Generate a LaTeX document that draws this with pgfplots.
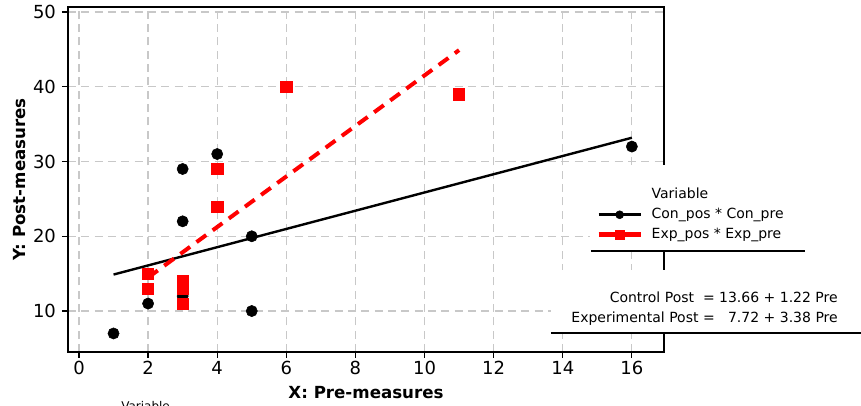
\documentclass[border=0pt]{standalone}
\usepackage{fontspec}
\setmainfont{DejaVu Sans}
\usepackage{pgfplots}
\pgfplotsset{compat=1.18}
\definecolor{gridgray}{RGB}{200,200,200}
\definecolor{expred}{RGB}{255,0,0}

\begin{document}
\begin{tikzpicture}
\begin{axis}[
    scale only axis,
    width=447pt, height=258.75pt,
    xmin=-0.318, xmax=16.93,
    ymin=4.52, ymax=50.67,
    xtick={0,2,...,16},
    ytick={10,20,...,50},
    xtick pos=left, ytick pos=left,
    tick align=outside,
    major tick length=4.5pt,
    tick style={black, line width=0.9pt},
    grid=major,
    major grid style={gridgray, line width=0.9pt, dash pattern=on 6pt off 4pt},
    axis line style={black, line width=1.2pt},
    /pgf/number format/assume math mode=true,
    ticklabel style={font=\fontsize{13.5}{16}\selectfont},
    xticklabel style={yshift=1pt},
    yticklabel style={xshift=-1pt},
    xlabel={X: Pre-measures},
    ylabel={Y: Post-measures},
    every axis x label/.style={at={(rel axis cs:0.5,-0.136)}, anchor=base,
        font=\bfseries\fontsize{12.5}{15}\selectfont},
    every axis y label/.style={at={(rel axis cs:-0.0713,0.5)}, anchor=base, rotate=90,
        font=\bfseries\fontsize{12.5}{15}\selectfont},
    clip=false,
    legend image code/.code={\draw[mark repeat=2,mark phase=2,#1]
        plot coordinates {(0pt,0pt) (15.75pt,0pt) (31.5pt,0pt)};},
    legend cell align=left,
    legend style={at={(rel axis cs:0.886,0.4797)}, anchor=north west,
        draw=none, fill=none, inner sep=0pt, row sep=3pt, column sep=6.5pt,
        font=\fontsize{10.5}{12}\selectfont,
        nodes={inner sep=0pt, text height=9pt, text depth=3pt}},
]
% control group
\addplot[only marks, mark=*, mark size=4.2pt, black, forget plot] coordinates {
    (1,7) (2,11) (3,29) (3,22) (3,12) (4,31) (5,20) (5,10) (16,32)};
\addplot[black, line width=1.8pt, forget plot] coordinates {(1,14.88) (16,33.18)};
% experimental group
\addplot[only marks, mark=square*, mark size=4.2pt, expred, forget plot] coordinates {
    (2,15) (2,13) (3,14) (3,13) (3,11) (4,29) (4,24) (6,40) (11,39)};
\addplot[expred, line width=3pt, dash pattern=on 9pt off 6pt, forget plot]
    coordinates {(2,14.48) (11,44.90)};

% white panels of the legend and the equations
\fill[white] (rel axis cs:0.876,0.542) rectangle (rel axis cs:1.35,0.2928);
\draw[black, line width=0.9pt] (rel axis cs:0.8775,0.2928) -- (rel axis cs:1.2366,0.2928);
\fill[white] (rel axis cs:0.8104,0.2377) rectangle (rel axis cs:1.35,0.0551);
\draw[black, line width=0.9pt] (rel axis cs:0.8104,0.0551) -- (rel axis cs:1.331,0.0551);
\node[anchor=east, inner sep=0pt, font=\fontsize{10.5}{15}\selectfont]
    at (rel axis cs:1.292,0.1275)
    {\begin{tabular}{@{}r@{}}Control Post\ \ = 13.66 + 1.22 Pre\\
     Experimental Post =\ \ \ 7.72 + 3.38 Pre\end{tabular}};

\addlegendimage{empty legend}
\addlegendentry{Variable}
\addlegendimage{black, line width=2.2pt, mark=*, mark size=3pt, mark options={line width=0.4pt}}
\addlegendentry{Con\_pos * Con\_pre}
\addlegendimage{expred, line width=3.5pt, mark=square*, mark size=3.5pt, mark options={line width=0.4pt}}
\addlegendentry{Exp\_pos * Exp\_pre}
\end{axis}
\begin{scope}[x=0.75pt, y=-0.75pt, xshift=-51pt, yshift=264pt]
% remnant of a caption cut off by the lower edge
\node[anchor=north west, inner sep=0pt, font=\fontsize{9}{10}\selectfont] at (121,401.5) {Variable};
\pgfresetboundingbox
\useasboundingbox (0,0) rectangle (861,406);
\end{scope}
\end{tikzpicture}
\end{document}
